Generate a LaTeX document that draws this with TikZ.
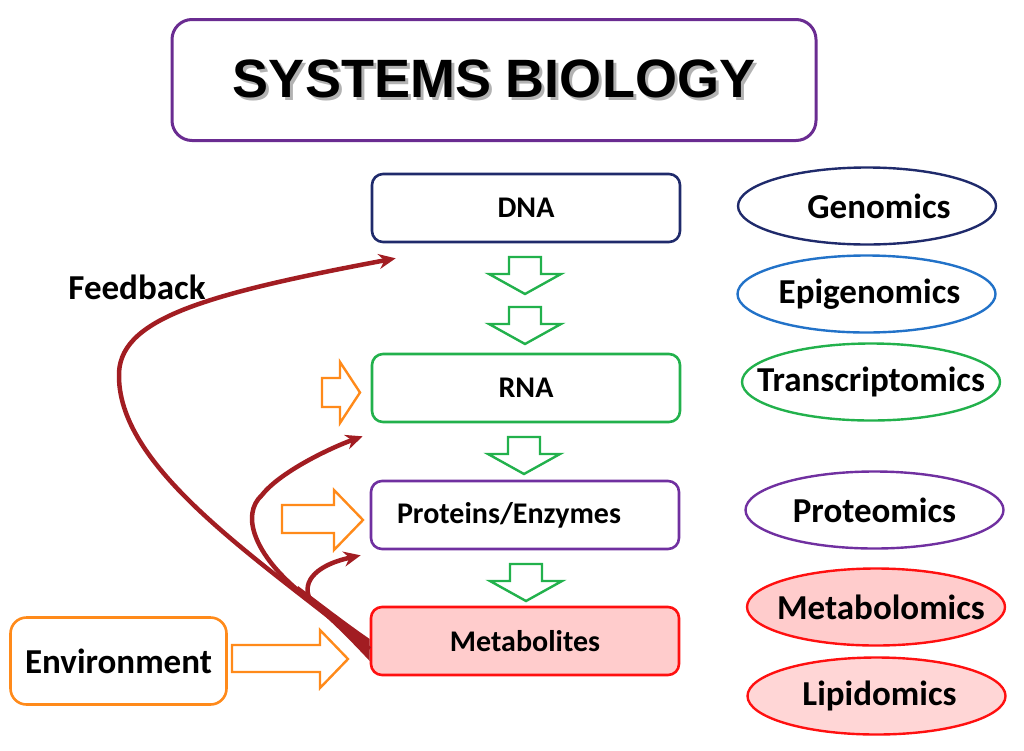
\documentclass[tikz,border=0pt]{standalone}
\usepackage{fontspec}
\setmainfont{Carlito}
\newfontfamily\titlefont{Liberation Sans}
\usetikzlibrary{shapes.geometric,arrows.meta}
\definecolor{titlepurple}{HTML}{6A2C91}
\definecolor{dnanavy}{HTML}{1F2A6B}
\definecolor{rnagreen}{HTML}{22B14C}
\definecolor{protpurple}{HTML}{7030A0}
\definecolor{metared}{HTML}{FF1010}
\definecolor{metafill}{HTML}{FFCCCC}
\definecolor{lipfill}{HTML}{FFD6D6}
\definecolor{epiblue}{HTML}{2272C8}
\definecolor{envorange}{HTML}{FF8A1A}
\definecolor{fbred}{HTML}{A21D22}
\newcommand{\shtext}[2]{{\rlap{\kern#1\raisebox{-#1}{\textcolor{black!30}{#2}}}#2}}
\newcommand{\fixw}[1]{\makebox[0pt]{#1}}
\begin{document}
\begin{tikzpicture}[x=1pt,y=-1pt,
  stagebox/.style={draw, line width=2.6pt, rounded corners=11pt, minimum width=308pt, minimum height=68pt, inner sep=0pt, font=\fontsize{30}{34}\selectfont\bfseries},
  omics/.style={draw, ellipse, line width=2.4pt, minimum width=258pt, minimum height=77pt, inner sep=0pt, font=\fontsize{35}{40}\selectfont\bfseries},
  greenarr/.style={draw=rnagreen, fill=white, line width=2.4pt, line join=miter},
  orangearr/.style={draw=envorange, fill=white, line width=2.4pt, line join=miter},
  fbline/.style={draw=fbred, line width=4.5pt, -{Stealth[length=17pt,width=15pt]}},
]
\useasboundingbox (0,0) rectangle (1024,750);

% title
\node[draw=titlepurple, line width=3pt, rounded corners=20pt, minimum width=644pt, minimum height=121pt, inner sep=0pt,
      font=\titlefont\fontsize{54}{60}\selectfont\bfseries] (title) at (494,80) {\shtext{3pt}{SYSTEMS BIOLOGY}};

% stages
\node[stagebox, draw=dnanavy] (dna) at (526,208) {DNA};
\node[stagebox, draw=rnagreen] (rna) at (526,388) {RNA};
\node[stagebox, draw=protpurple] (prot) at (525,515) {\hspace*{-32pt}Proteins/Enzymes};
\node[stagebox, draw=metared, fill=metafill] (meta) at (525,641) {Metabolites};

% environment
\node[draw=envorange, line width=2.6pt, rounded corners=16pt, minimum width=216pt, minimum height=87pt, inner sep=0pt,
      font=\fontsize{35}{40}\selectfont\bfseries] (env) at (118.5,661) {Environment};

% feedback label
\node[font=\fontsize{35}{40}\selectfont\bfseries] (fblabel) at (137,287) {Feedback};

% omics ellipses
\node[omics, draw=dnanavy] (gen) at (867,206) {\fixw{\hspace*{24pt}Genomics}};
\node[omics, draw=epiblue] (epi) at (866.5,294) {\fixw{\hspace*{6pt}Epigenomics}};
\node[omics, draw=rnagreen] (tra) at (871,382) {\fixw{Transcriptomics}};
\node[omics, draw=protpurple] (pro) at (874.5,510) {\fixw{Proteomics}};
\node[omics, draw=metared, fill=metafill] (mtb) at (876,607) {\fixw{\hspace*{10pt}Metabolomics}};
\node[omics, draw=metared, fill=lipfill] (lip) at (876.5,696) {\fixw{\hspace*{6pt}Lipidomics}};

% green down block arrows
\foreach \cx/\cy in {525/257, 525/307, 524/437, 526/564}{
  \draw[greenarr] (\cx-16,\cy) -- (\cx+16,\cy) -- (\cx+16,\cy+17) -- (\cx+36,\cy+17) -- (\cx,\cy+37)
     -- (\cx-36,\cy+17) -- (\cx-16,\cy+17) -- cycle;
}

% orange right block arrows
\draw[orangearr] (322,378) -- (340,378) -- (340,362) -- (360,392.5) -- (340,423) -- (340,407) -- (322,407) -- cycle;
\draw[orangearr] (282,505) -- (334,505) -- (334,490) -- (363,520) -- (334,550) -- (334,533) -- (282,533) -- cycle;
\draw[orangearr] (232,645) -- (320,645) -- (320,630) -- (348,659) -- (320,688) -- (320,672) -- (232,672) -- cycle;

% feedback curves
\coordinate (fbstart) at ([yshift=-8pt]meta.west);
\fill[fbred] ([yshift=2pt]meta.west) .. controls (345,622) and (322,604) .. (298,586)
   -- (296,592) .. controls (325,614) and (350,640) .. ([yshift=-20pt]meta.west) -- cycle;
\draw[fbline] (fbstart) .. controls (260,560) and (120,470) .. (119,377)
   .. controls (117,320) and (200,295) .. ([xshift=25pt,yshift=-15pt]dna.south west);
\draw[fbline] (300,592) .. controls (255,555) and (240,515) .. (262,495)
   .. controls (280,472) and (330,448) .. ([xshift=-8pt,yshift=-13pt]rna.south west);
\draw[fbline] (312,603) .. controls (300,585) and (312,566) .. ([xshift=-9pt,yshift=-5pt]prot.south west);
\end{tikzpicture}
\end{document}
